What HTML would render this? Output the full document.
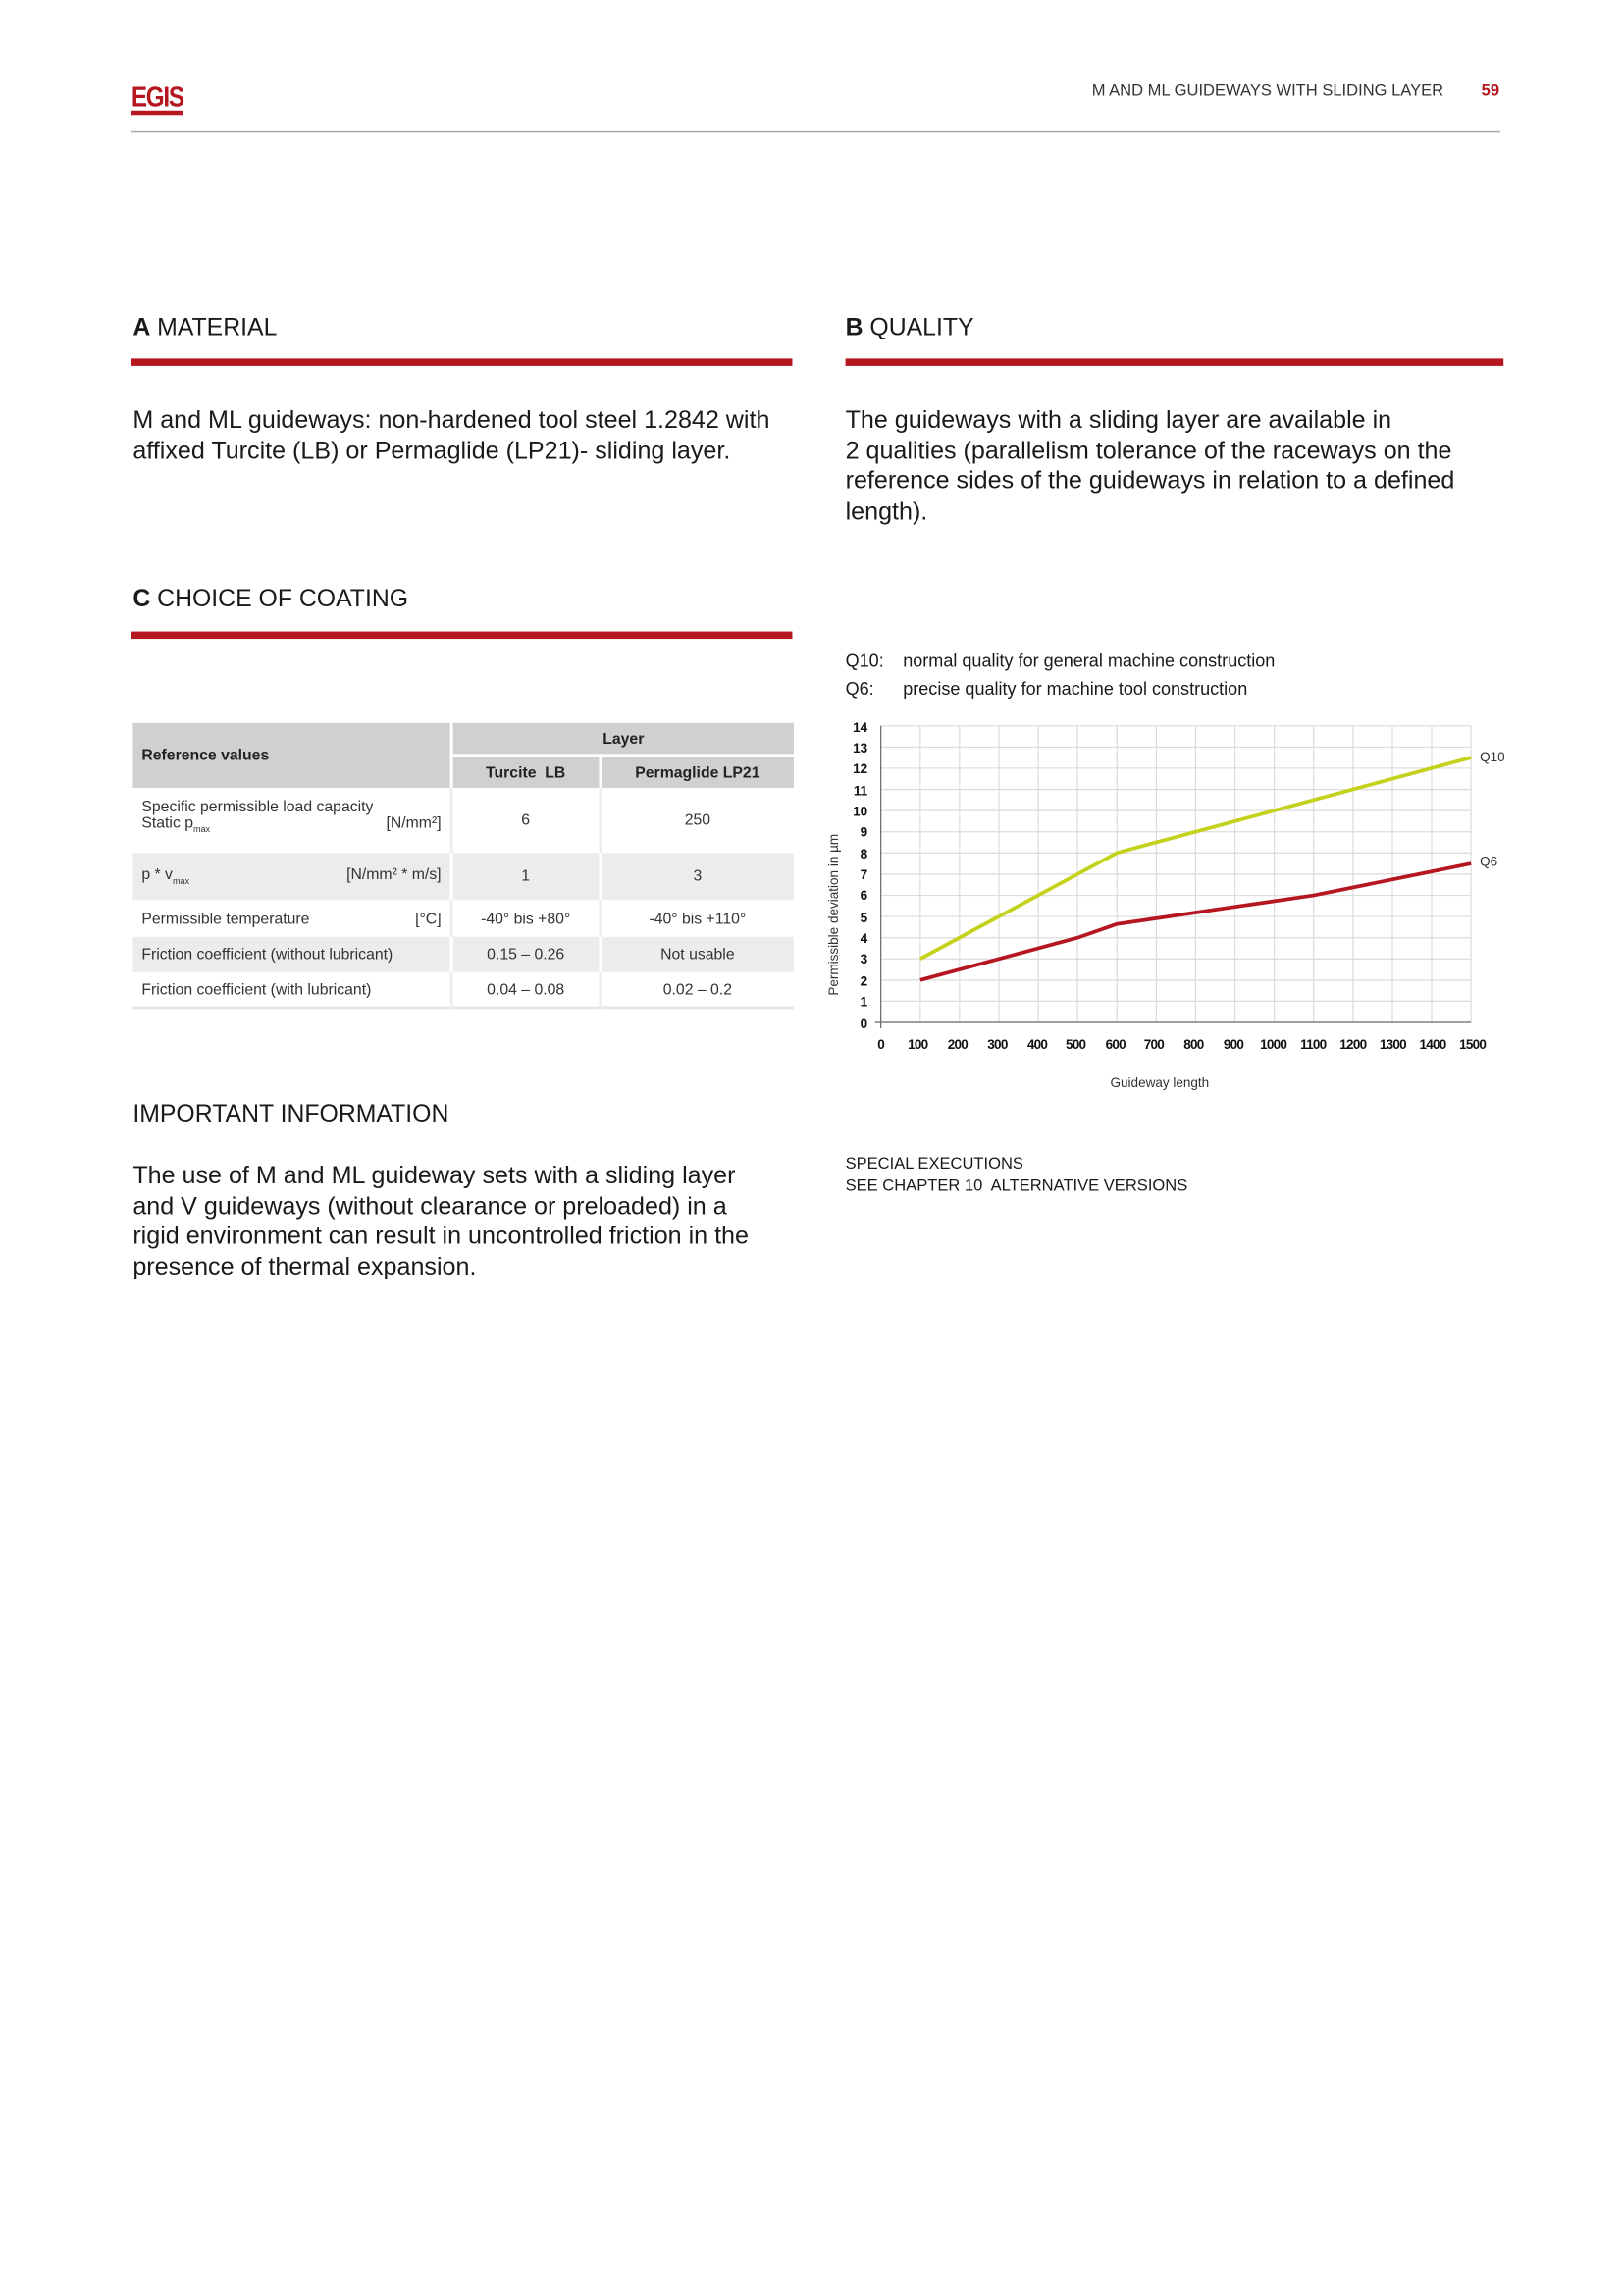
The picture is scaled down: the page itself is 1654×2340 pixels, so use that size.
<!DOCTYPE html>
<html><head><meta charset="utf-8">
<style>
html,body{margin:0;padding:0;background:#fff;}
body{width:1654px;height:2339px;overflow:hidden;position:relative;}
#w{position:absolute;left:0;top:0;width:1100px;height:1556px;transform:scale(1.50364);transform-origin:0 0;font-family:"Liberation Sans",sans-serif;color:#1a1a1a;}
.a{position:absolute;white-space:nowrap;}
.h{font-size:16.5px;}
.h b{font-weight:bold;}
.bar{position:absolute;height:5px;background:#b5161f;}
.p{font-size:16.7px;line-height:20.5px;white-space:normal;}
table{border-collapse:collapse;font-size:10.5px;}
td{padding:0 6px;color:#333;}
</style></head><body><div id="w">
<div class="a" style="left:89px;top:58px;font-weight:bold;font-size:19px;color:#b5161f;letter-spacing:-1px;transform:scaleX(0.85);transform-origin:0 0;line-height:17px;border-bottom:3px solid #b5161f;">EGIS</div>
<div class="a" style="left:740px;top:56px;font-size:11px;color:#333;">M AND ML GUIDEWAYS WITH SLIDING LAYER</div>
<div class="a" style="left:1004px;top:56px;font-size:11px;color:#b5161f;font-weight:bold;">59</div>
<div class="a" style="left:89px;top:89px;width:928px;height:1px;background:#aaa;"></div>

<div class="a h" style="left:90px;top:213px;"><b>A</b> MATERIAL</div>
<div class="bar" style="left:89px;top:243px;width:448px;"></div>
<div class="a h" style="left:573px;top:213px;"><b>B</b> QUALITY</div>
<div class="bar" style="left:573px;top:243px;width:446px;"></div>

<div class="a p" style="left:90px;top:275px;width:450px;">M and ML guideways: non-hardened tool steel 1.2842 with affixed Turcite (LB) or Permaglide (LP21)- sliding layer.</div>
<div class="a p" style="left:573px;top:275px;width:440px;">The guideways with a sliding layer are available in<br>2 qualities (parallelism tolerance of the raceways on the reference sides of the guideways in relation to a defined length).</div>

<div class="a h" style="left:90px;top:397px;"><b>C</b> CHOICE OF COATING</div>
<div class="bar" style="left:89px;top:428px;width:448px;"></div>

<div class="a" style="left:573px;top:441px;font-size:12px;">Q10:</div>
<div class="a" style="left:612px;top:441px;font-size:12px;">normal quality for general machine construction</div>
<div class="a" style="left:573px;top:460px;font-size:12px;">Q6:</div>
<div class="a" style="left:612px;top:460px;font-size:12px;">precise quality for machine tool construction</div>

<table class="a" style="left:90px;top:490px;width:448px;">
<tr style="height:22px"><td rowspan="2" style="background:#d0d0d0;font-weight:bold;color:#222;width:203px;border-right:2px solid #fff;">Reference values</td><td colspan="2" style="background:#d0d0d0;font-weight:bold;color:#222;text-align:center;border-bottom:2px solid #fff;">Layer</td></tr>
<tr style="height:22px"><td style="background:#d0d0d0;font-weight:bold;color:#222;text-align:center;border-right:2px solid #fff;">Turcite&nbsp; LB</td><td style="background:#d0d0d0;font-weight:bold;color:#222;text-align:center;">Permaglide LP21</td></tr>
<tr style="height:44px"><td style="border-right:2px solid #eee;line-height:11px;">Specific permissible load capacity<br>Static p<sub style="font-size:6px">max</sub><span style="float:right">[N/mm²]</span></td><td style="text-align:center;border-right:2px solid #eee;">6</td><td style="text-align:center;">250</td></tr>
<tr style="height:32px;background:#ececec"><td style="border-right:2px solid #fff;">p * v<sub style="font-size:6px">max</sub><span style="float:right">[N/mm² * m/s]</span></td><td style="text-align:center;border-right:2px solid #fff;">1</td><td style="text-align:center;">3</td></tr>
<tr style="height:25px"><td style="border-right:2px solid #eee;">Permissible temperature<span style="float:right">[°C]</span></td><td style="text-align:center;border-right:2px solid #eee;">-40° bis +80°</td><td style="text-align:center;">-40° bis +110°</td></tr>
<tr style="height:24px;background:#ececec"><td style="border-right:2px solid #fff;">Friction coefficient (without lubricant)</td><td style="text-align:center;border-right:2px solid #fff;">0.15 – 0.26</td><td style="text-align:center;">Not usable</td></tr>
<tr style="height:24px;border-bottom:2px solid #e6e6e6"><td style="border-right:2px solid #eee;">Friction coefficient (with lubricant)</td><td style="text-align:center;border-right:2px solid #eee;">0.04 – 0.08</td><td style="text-align:center;">0.02 – 0.2</td></tr>
</table>

<svg class="a" style="left:0;top:0;" width="1100" height="1556" viewBox="0 0 1100 1556">
<g stroke="#dcdcdc" stroke-width="0.8">
<line x1="597" y1="492" x2="997" y2="492"/><line x1="597" y1="506.4" x2="997" y2="506.4"/><line x1="597" y1="520.7" x2="997" y2="520.7"/><line x1="597" y1="535.1" x2="997" y2="535.1"/><line x1="597" y1="549.4" x2="997" y2="549.4"/><line x1="597" y1="563.8" x2="997" y2="563.8"/><line x1="597" y1="578.1" x2="997" y2="578.1"/><line x1="597" y1="592.5" x2="997" y2="592.5"/><line x1="597" y1="606.9" x2="997" y2="606.9"/><line x1="597" y1="621.2" x2="997" y2="621.2"/><line x1="597" y1="635.6" x2="997" y2="635.6"/><line x1="597" y1="649.9" x2="997" y2="649.9"/><line x1="597" y1="664.3" x2="997" y2="664.3"/><line x1="597" y1="678.6" x2="997" y2="678.6"/>
<line x1="623.7" y1="492" x2="623.7" y2="693"/><line x1="650.3" y1="492" x2="650.3" y2="693"/><line x1="677" y1="492" x2="677" y2="693"/><line x1="703.7" y1="492" x2="703.7" y2="693"/><line x1="730.3" y1="492" x2="730.3" y2="693"/><line x1="757" y1="492" x2="757" y2="693"/><line x1="783.7" y1="492" x2="783.7" y2="693"/><line x1="810.3" y1="492" x2="810.3" y2="693"/><line x1="837" y1="492" x2="837" y2="693"/><line x1="863.7" y1="492" x2="863.7" y2="693"/><line x1="890.3" y1="492" x2="890.3" y2="693"/><line x1="917" y1="492" x2="917" y2="693"/><line x1="943.7" y1="492" x2="943.7" y2="693"/><line x1="970.3" y1="492" x2="970.3" y2="693"/><line x1="997" y1="492" x2="997" y2="693"/>
</g>
<line x1="597" y1="492" x2="597" y2="697" stroke="#666" stroke-width="0.8"/>
<line x1="593" y1="693" x2="997" y2="693" stroke="#666" stroke-width="0.8"/>
<polyline points="623.7,649.9 757,578.1 997,513.5" fill="none" stroke="#c5d21d" stroke-width="2.5"/>
<polyline points="623.7,664.3 730.3,635.6 757,626.3 890.3,606.9 997,585.3" fill="none" stroke="#b5161f" stroke-width="2.5"/>
<g font-family="Liberation Sans,sans-serif" font-size="9" font-weight="bold" fill="#111" text-anchor="end">
<text x="588" y="496">14</text><text x="588" y="510">13</text><text x="588" y="524">12</text><text x="588" y="539">11</text><text x="588" y="553">10</text><text x="588" y="567">9</text><text x="588" y="582">8</text><text x="588" y="596">7</text><text x="588" y="610">6</text><text x="588" y="625">5</text><text x="588" y="639">4</text><text x="588" y="653">3</text><text x="588" y="668">2</text><text x="588" y="682">1</text><text x="588" y="697">0</text>
</g>
<g font-family="Liberation Sans,sans-serif" font-size="9" font-weight="bold" fill="#111" text-anchor="middle" letter-spacing="-0.5">
<text x="597" y="711">0</text><text x="622" y="711">100</text><text x="649" y="711">200</text><text x="676" y="711">300</text><text x="703" y="711">400</text><text x="729" y="711">500</text><text x="756" y="711">600</text><text x="782" y="711">700</text><text x="809" y="711">800</text><text x="836" y="711">900</text><text x="863" y="711">1000</text><text x="890" y="711">1100</text><text x="917" y="711">1200</text><text x="944" y="711">1300</text><text x="971" y="711">1400</text><text x="998" y="711">1500</text>
</g>
<g font-family="Liberation Sans,sans-serif" font-size="9" fill="#333">
<text x="1003" y="516">Q10</text><text x="1003" y="587">Q6</text>
<text x="786" y="737" text-anchor="middle">Guideway length</text>
<text transform="translate(568,620) rotate(-90)" text-anchor="middle">Permissible deviation  in µm</text>
</g>
</svg>

<div class="a h" style="left:90px;top:746px;">IMPORTANT INFORMATION</div>
<div class="a p" style="left:90px;top:787px;width:460px;">The use of M and ML guideway sets with a sliding layer<br>and V guideways (without clearance or preloaded) in a<br>rigid environment can result in uncontrolled friction in the<br>presence of thermal expansion.</div>
<div class="a" style="left:573px;top:782px;font-size:11px;line-height:15px;">SPECIAL EXECUTIONS<br>SEE CHAPTER 10&nbsp; ALTERNATIVE VERSIONS</div>
</div></body></html>
